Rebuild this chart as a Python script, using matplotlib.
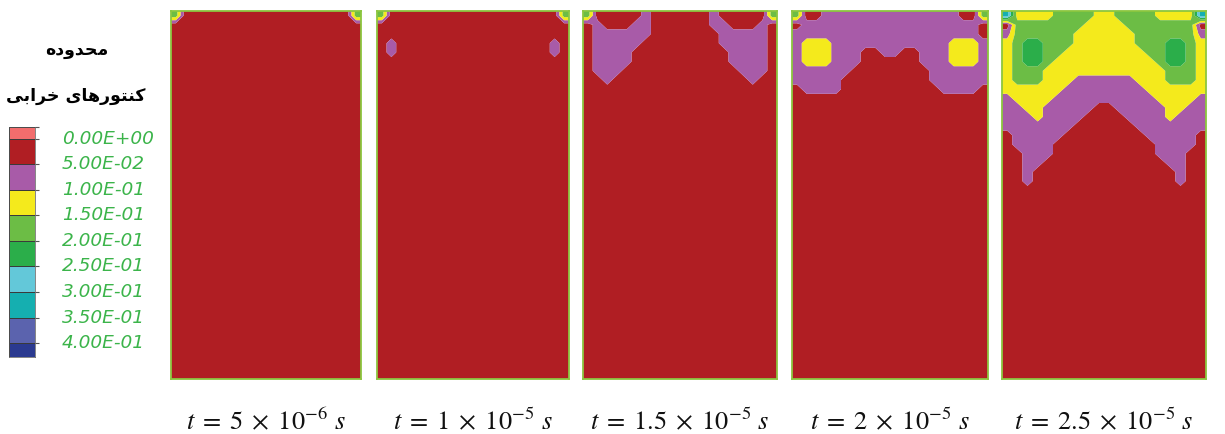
import numpy as np
import matplotlib
matplotlib.use("Agg")
import matplotlib.pyplot as plt
from matplotlib.colors import ListedColormap, BoundaryNorm
from matplotlib.transforms import blended_transform_factory

# ---------------- data ----------------
LEGEND_TITLE_1 = "محدوده"
LEGEND_TITLE_2 = "کنتورهای خرابی"
LEVELS = [0.00, 0.05, 0.10, 0.15, 0.20, 0.25, 0.30, 0.35, 0.40]
LEVEL_COLORS = ["#F26D6D", "#B01E23", "#A85BA8", "#F4EA1C", "#6CBD45",
                "#2BAE4A", "#63C8D9", "#15AFB0", "#5B63AE", "#2B3A90"]
TIME_COEF = ["5", "1", "1.5", "2", "2.5"]
TIME_EXP = [-6, -5, -5, -5, -5]

# damage class per node (digit k -> damage band [0.05k, 0.05k+0.05]),
# 20 columns across the width, rows every 2.5% of depth from the top;
# rows not listed are undamaged
P1 = ["30000000000000000003"]
P2 = ["30000000000000000003",
      "00000000000000000000",
      "00000000000000000000",
      "01000000000000000010",
      "01000000000000000010"]
P3 = ["30000010000001000003",
      "01000110000001100010",
      "01111110000000111110",
      "01111100000000111110",
      "01111000000000011110",
      "01111000000000011110",
      "01110000000000001110",
      "00100000000000000100"]
P4 = ["30011111111111111003",
      "01111111111111111110",
      "11111111111111111110",
      "12221111111111112221",
      "12221110011001112221",
      "12221110000001112221",
      "11111100000000111111",
      "11111000000000111111",
      "01111000000000011110"]
P5 = ["62222333322333322226",
      "03333333222233333330",
      "13333332222223333331",
      "23443332222223334432",
      "23443322222222334432",
      "23443222222222234432",
      "23332222222222223332",
      "23332221111112223332",
      "22222211111111222222",
      "12222111111111122221",
      "11221111100111112211",
      "11121111000011112111",
      "11111110000001111111",
      "01111100000000111110",
      "01111000000000011110",
      "00111000000000011100",
      "00110000000000001100",
      "00100000000000000100",
      "00100000000000000100"]
PANELS = [P1, P2, P3, P4, P5]

# ---------------- helpers ----------------
_FORMS = {  # isolated, final, initial, medial
    "م": ("\uFEE1", "\uFEE2", "\uFEE3", "\uFEE4"),
    "ح": ("\uFEA1", "\uFEA2", "\uFEA3", "\uFEA4"),
    "د": ("\uFEA9", "\uFEAA", None, None),
    "و": ("\uFEED", "\uFEEE", None, None),
    "ه": ("\uFEE9", "\uFEEA", "\uFEEB", "\uFEEC"),
    "ک": ("\uFB8E", "\uFB8F", "\uFB90", "\uFB91"),
    "ن": ("\uFEE5", "\uFEE6", "\uFEE7", "\uFEE8"),
    "ت": ("\uFE95", "\uFE96", "\uFE97", "\uFE98"),
    "ر": ("\uFEAD", "\uFEAE", None, None),
    "ا": ("\uFE8D", "\uFE8E", None, None),
    "ی": ("\uFBFC", "\uFBFD", "\uFBFE", "\uFBFF"),
    "خ": ("\uFEA5", "\uFEA6", "\uFEA7", "\uFEA8"),
    "ب": ("\uFE8F", "\uFE90", "\uFE91", "\uFE92"),
}


def shape_rtl(s):
    out = []
    for i, c in enumerate(s):
        f = _FORMS.get(c)
        if f is None:
            out.append(c)
            continue
        prev = s[i - 1] if i > 0 else None
        nxt = s[i + 1] if i + 1 < len(s) else None
        jp = prev in _FORMS and _FORMS[prev][2] is not None
        jn = nxt in _FORMS and f[2] is not None
        if jp and jn:
            g = f[3]
        elif jp:
            g = f[1]
        elif jn:
            g = f[2]
        else:
            g = f[0]
        out.append(g)
    return "".join(reversed(out))


NCOL, NROW, DSTEP = 20, 22, 0.025
STEP = LEVELS[1] - LEVELS[0]


def build_field(rows):
    g = np.zeros((NROW, NCOL))
    for j, r in enumerate(rows):
        g[j] = [int(ch) for ch in r]
    z = STEP * g + STEP / 2
    z = np.pad(z, ((1, 0), (1, 1)), mode="edge")
    z = np.vstack([z, np.full((1, z.shape[1]), STEP / 2)])
    xc = (np.arange(NCOL) + 0.5) / NCOL
    dc = (np.arange(NROW) + 0.5) * DSTEP
    x = np.concatenate([[0.0], xc, [1.0]])
    d = np.concatenate([[0.0], dc, [1.0]])
    return x, d, z


# ---------------- figure ----------------
W, H = 1225, 434
plt.rcParams["mathtext.fontset"] = "stix"
fig = plt.figure(figsize=(W / 100, H / 100), dpi=100)

bounds = [-1.0] + LEVELS + [1.0]
PANEL_PX = [(171, 361), (377, 569), (583, 777), (792, 988), (1002, 1206)]
TOP, BOT = 11, 379

for rows, (l, r), c, e in zip(PANELS, PANEL_PX, TIME_COEF, TIME_EXP):
    ax = fig.add_axes([l / W, 1 - BOT / H, (r - l) / W, (BOT - TOP) / H])
    x, d, z = build_field(rows)
    ax.contourf(x, d, z, levels=bounds, colors=LEVEL_COLORS, antialiased=True)
    ax.set_xlim(0, 1)
    ax.set_ylim(1, 0)
    ax.set_xticks([])
    ax.set_yticks([])
    for s in ax.spines.values():
        s.set_color("#8CC63F")
        s.set_linewidth(1.3)
    fig.text((l + r) / 2 / W, 1 - 429 / H,
             rf"$t\;=\;{c}\;\times\;10^{{{e}}}\ s$",
             ha="center", va="baseline", fontsize=19, color="#111111")

# legend bar
axl = fig.add_axes([9 / W, 1 - 357 / H, 26 / W, 230 / H])
edges = np.array([LEVELS[0] - 0.45 * STEP] + LEVELS + [LEVELS[-1] + 0.54 * STEP])
mids = (edges[:-1] + edges[1:]) / 2
axl.pcolormesh([0, 1], edges, mids[:, None],
               cmap=ListedColormap(LEVEL_COLORS),
               norm=BoundaryNorm(edges, len(LEVEL_COLORS)),
               edgecolors="#3a3a3a", linewidth=0.5)
axl.set_xlim(0, 1)
axl.set_ylim(edges[-1], edges[0])
axl.set_xticks([])
axl.yaxis.tick_right()
axl.set_yticks(edges[:-1])
axl.set_yticklabels([])
axl.tick_params(axis="y", length=3, width=0.8, color="#555555")
for s in axl.spines.values():
    s.set_linewidth(0.5)
    s.set_color("#555555")
tr = blended_transform_factory(axl.transAxes, axl.transData)
for v in LEVELS:
    axl.text(2.04, v, f"{v:.2E}", transform=tr, ha="left", va="center",
             color="#3BB44A", fontsize=13.3, style="italic", family="DejaVu Sans")

fig.text(77 / W, 1 - 50 / H, shape_rtl(LEGEND_TITLE_1), ha="center", va="center",
         fontsize=12.5, fontweight="bold", family="DejaVu Sans")
fig.text(76 / W, 1 - 96 / H, shape_rtl(LEGEND_TITLE_2), ha="center", va="center",
         fontsize=12.5, fontweight="bold", family="DejaVu Sans")

fig.savefig("out.png", dpi=100)
